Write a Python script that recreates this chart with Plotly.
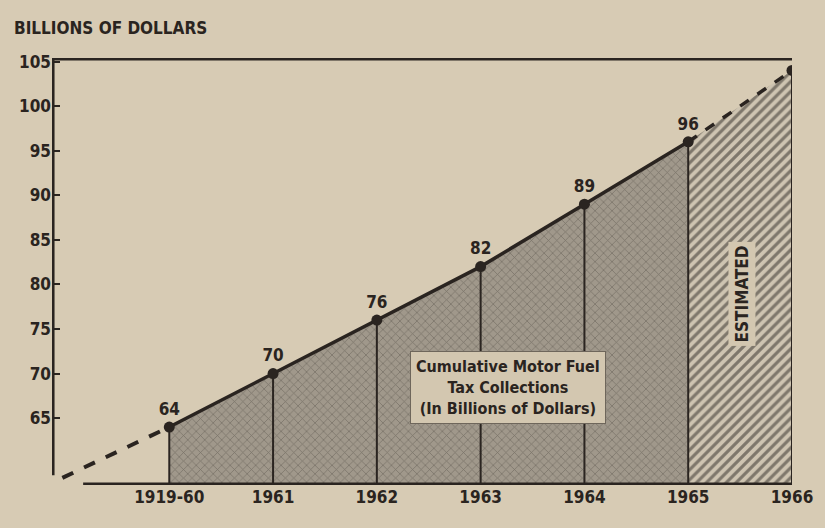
import plotly.graph_objects as go

# ---- data ----
years = ["1919-60", "1961", "1962", "1963", "1964", "1965", "1966"]
values = [64, 70, 76, 82, 89, 96, 104]
value_labels = ["64", "70", "76", "82", "89", "96", "104"]
n_actual = 6  # first six are actual, last one estimated
y_ticks = [65, 70, 75, 80, 85, 90, 95, 100, 105]
trend_start_x = -1.03     # where the dashed lead-in trend begins (x position, in category units)
trend_start_value = 58.3  # value at lead-in start

Y_MIN, Y_MAX = 57.5, 105.4
X_MIN, X_MAX = -1.13, 6.0

FONT = "Liberation Sans Narrow, DejaVu Sans Condensed, Arial Narrow, Liberation Sans, sans-serif"
INK = "#2a2420"
PAPER = "#d7cbb4"

xs = list(range(len(years)))
xa = xs[:n_actual]
va = values[:n_actual]
xe = xs[n_actual - 1:]
ve = values[n_actual - 1:]

fig = go.Figure()

# actual area (cross-hatched)
fig.add_trace(go.Scatter(
    x=xa, y=va, mode="lines", line=dict(width=0), fill="tozeroy",
    fillcolor="rgba(0,0,0,0)",
    fillpattern=dict(shape="x", fgcolor="#4d4740", bgcolor="#a0988b", size=6, solidity=0.22),
    hoverinfo="skip", showlegend=False))

# estimated area (diagonal stripes)
fig.add_trace(go.Scatter(
    x=xe, y=ve, mode="lines", line=dict(width=0), fill="tozeroy",
    fillcolor="rgba(0,0,0,0)",
    fillpattern=dict(shape="/", fgcolor="#2e2925", bgcolor="#cec4b1", size=7, solidity=0.45),
    hoverinfo="skip", showlegend=False))

# vertical divider lines
vx, vy = [], []
for x, v in zip(xs, values):
    vx += [x, x, None]
    vy += [Y_MIN, v, None]
fig.add_trace(go.Scatter(x=vx, y=vy, mode="lines", line=dict(color=INK, width=2),
                         hoverinfo="skip", showlegend=False))

# dashed lead-in
fig.add_trace(go.Scatter(x=[trend_start_x, xs[0]], y=[trend_start_value, values[0]], mode="lines",
                         line=dict(color=INK, width=4, dash="dash"), hoverinfo="skip", showlegend=False))
# solid actual line
fig.add_trace(go.Scatter(x=xa, y=va, mode="lines", line=dict(color=INK, width=3.5),
                         hoverinfo="skip", showlegend=False))
# dashed estimated line
fig.add_trace(go.Scatter(x=xe, y=ve, mode="lines", line=dict(color=INK, width=3.5, dash="dash"),
                         hoverinfo="skip", showlegend=False))
# points with labels
fig.add_trace(go.Scatter(x=xs, y=values, mode="markers+text", text=value_labels,
                         textposition="top center",
                         textfont=dict(family=FONT, size=17, color=INK, weight="bold"),
                         marker=dict(color=INK, size=11),
                         hoverinfo="skip", showlegend=False))

# frame lines
fig.add_shape(type="line", xref="x", yref="y", x0=X_MIN, x1=X_MAX, y0=105.3, y1=105.3,
              line=dict(color=INK, width=3))
fig.add_shape(type="line", xref="x", yref="y", x0=X_MIN + 0.01, x1=X_MIN + 0.01, y0=58.6, y1=105.3,
              line=dict(color=INK, width=3))
fig.add_shape(type="line", xref="x", yref="y", x0=-0.83, x1=X_MAX, y0=Y_MIN + 0.1, y1=Y_MIN + 0.1,
              line=dict(color=INK, width=3))

# label box
fig.add_annotation(x=3.26, y=68.4, xref="x", yref="y", showarrow=False,
                   text="Cumulative Motor Fuel<br>Tax Collections<br>(In Billions of Dollars)",
                   font=dict(family=FONT, size=16, color=INK, weight="bold"),
                   bgcolor="#d3c7b0", bordercolor="#6e665b", borderwidth=1, borderpad=5)
# estimated label
fig.add_annotation(x=5.52, y=78.9, xref="x", yref="y", showarrow=False, textangle=-90,
                   text="ESTIMATED", font=dict(family=FONT, size=17, color=INK, weight="bold"),
                   bgcolor="#d3c7b0", borderpad=3)
# axis title
fig.add_annotation(x=-0.054, y=1.07, xref="paper", yref="paper", showarrow=False,
                   xanchor="left", yanchor="middle", text="BILLIONS OF DOLLARS",
                   font=dict(family=FONT, size=17, color=INK, weight="bold"))

fig.update_xaxes(range=[X_MIN, X_MAX], tickvals=xs, ticktext=years, showgrid=False,
                 zeroline=False, showline=False, ticks="",
                 tickfont=dict(family=FONT, size=17, color=INK, weight="bold"))
fig.update_yaxes(range=[Y_MIN, Y_MAX], tickvals=y_ticks, ticktext=[str(t) for t in y_ticks],
                 showgrid=False, zeroline=False, showline=False,
                 ticks="inside", ticklen=8, tickwidth=2, tickcolor=INK,
                 tickfont=dict(family=FONT, size=17, color=INK, weight="bold"))

fig.update_layout(width=825, height=528, margin=dict(l=52, r=26, t=58, b=43),
                  paper_bgcolor=PAPER, plot_bgcolor=PAPER, showlegend=False)

fig.write_html("out.html", config={"displayModeBar": False},
               post_script="document.body.style.margin='0';document.body.style.background='%s';" % PAPER)
